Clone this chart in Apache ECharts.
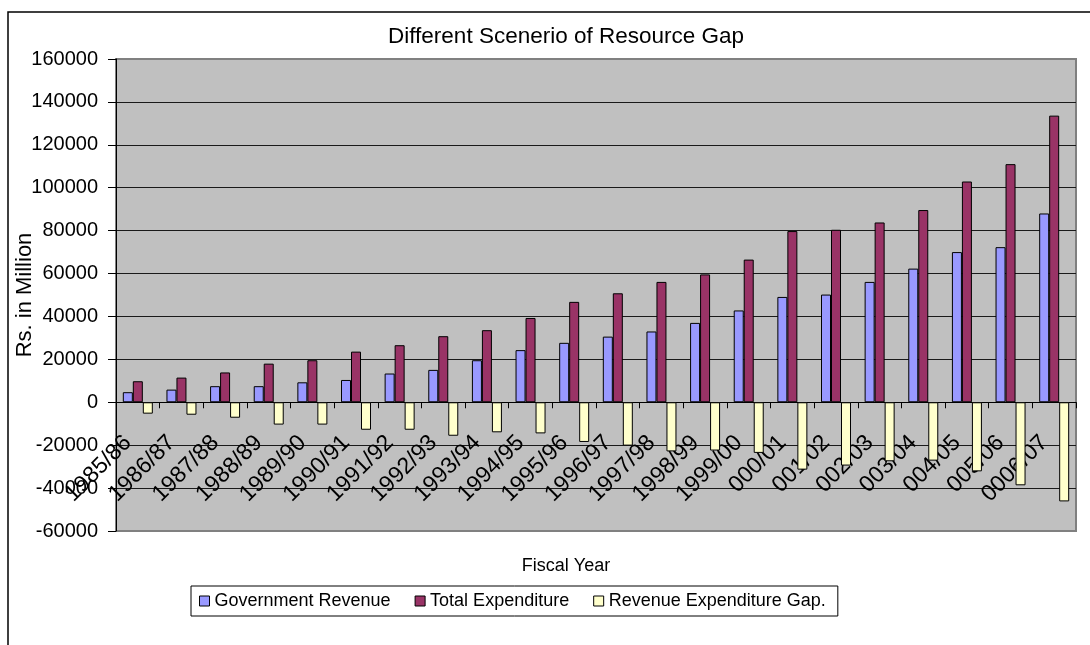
<!DOCTYPE html>
<html>
<head>
<meta charset="utf-8">
<script src="https://cdn.jsdelivr.net/npm/echarts@6/dist/echarts.min.js"></script>
<style>
  html, body { margin: 0; padding: 0; background: #fff; }
  #chart { width: 1090px; height: 645px; }
</style>
</head>
<body>
<div id="chart"></div>
<script>
// Fiscal years on the category axis
const categories = [
  '1985/86', '1986/87', '1987/88', '1988/89', '1989/90', '1990/91',
  '1991/92', '1992/93', '1993/94', '1994/95', '1995/96', '1996/97',
  '1997/98', '1998/99', '1999/00', '000/01', '001/02', '002/03',
  '003/04', '004/05', '005/06', '0006/07'
];

// Rs. in Million
const governmentRevenue = [
  4700, 5900, 7500, 7500, 9300, 10400, 13400, 15100, 19600, 24300, 27700,
  30600, 33000, 37000, 42800, 49100, 50200, 56100, 62300, 70000, 72300, 88000
];
const totalExpenditure = [
  9800, 11500, 13900, 18000, 19600, 23600, 26600, 30800, 33600, 39300, 46800,
  50800, 56100, 59600, 66500, 79800, 80400, 83800, 89600, 102900, 111000, 133600
];
const revenueExpenditureGap = [
  -5300, -5800, -7200, -10400, -10400, -12800, -12800, -15600, -14000, -14500, -18500,
  -20200, -22900, -22500, -23600, -31400, -29500, -27500, -27200, -32200, -38700, -46200
];

const seriesNames = ['Government Revenue', 'Total Expenditure', 'Revenue Expenditure Gap.'];
const seriesColors = ['#9999FF', '#993366', '#FFFFCC'];
const seriesValues = [governmentRevenue, totalExpenditure, revenueExpenditureGap];

// Value axis range
const yMin = -60000;
const yMax = 160000;
const yStep = 20000;

const FONT = '"Liberation Sans", Arial, sans-serif';

// Plot rectangle inside the 1090x645 canvas
const GRID = { left: 116, right: 14, top: 59, bottom: 114 };
const plotHeight = 645 - GRID.top - GRID.bottom;
// Lift the category axis (line, ticks, labels) up to the zero value
const zeroOffset = -plotHeight * (0 - yMin) / (yMax - yMin);

const chart = echarts.init(document.getElementById('chart'), null, { renderer: 'canvas' });

chart.setOption({
  animation: false,
  backgroundColor: '#ffffff',
  textStyle: { fontFamily: FONT, color: '#000' },
  title: {
    text: 'Different Scenerio of Resource Gap',
    left: 383,
    top: 20,
    textStyle: { fontFamily: FONT, fontSize: 22.5, fontWeight: 'normal', color: '#000' }
  },
  legend: {
    data: seriesNames,
    left: 191,
    top: 586,
    orient: 'horizontal',
    icon: 'rect',
    itemWidth: 10,
    itemHeight: 10,
    itemGap: 24,
    padding: [6, 12, 6, 8],
    borderColor: '#000',
    borderWidth: 1,
    itemStyle: { borderColor: '#000', borderWidth: 1 },
    textStyle: { fontFamily: FONT, fontSize: 18, color: '#000' }
  },
  grid: {
    left: GRID.left,
    right: GRID.right,
    top: GRID.top,
    bottom: GRID.bottom,
    show: true,
    backgroundColor: '#C0C0C0',
    borderColor: '#808080',
    borderWidth: 2,
    containLabel: false,
    outerBoundsMode: 'none'
  },
  xAxis: {
    type: 'category',
    data: categories,
    position: 'bottom',
    offset: zeroOffset,
    name: 'Fiscal Year',
    nameLocation: 'middle',
    nameGap: 155,
    nameMoveOverlap: false,
    nameTextStyle: { fontFamily: FONT, fontSize: 18, color: '#000', padding: [0, 60, 0, 0] },
    axisLine: { onZero: false, lineStyle: { color: '#000', width: 1 } },
    axisTick: { show: true, inside: false, length: 6, lineStyle: { color: '#000' } },
    axisLabel: {
      interval: 0,
      rotate: 45,
      margin: 27,
      padding: [0, 14, 0, 0],
      fontFamily: FONT,
      fontSize: 23,
      color: '#000',
      hideOverlap: false
    },
    splitLine: { show: false }
  },
  yAxis: {
    type: 'value',
    min: yMin,
    max: yMax,
    interval: yStep,
    name: 'Rs. in Million',
    nameLocation: 'middle',
    nameGap: 80,
    nameMoveOverlap: false,
    nameTextStyle: { fontFamily: FONT, fontSize: 22, color: '#000' },
    axisLine: { show: true, lineStyle: { color: '#000', width: 1 } },
    axisTick: { show: true, inside: false, length: 8, lineStyle: { color: '#000' } },
    axisLabel: {
      margin: 18,
      fontFamily: FONT,
      fontSize: 20,
      color: '#000',
      formatter: (v) => String(v)
    },
    splitLine: {
      show: true,
      showMinLine: false,
      showMaxLine: false,
      lineStyle: { color: '#1a1a1a', width: 1 }
    }
  },
  series: seriesNames.map((name, i) => ({
    name: name,
    type: 'bar',
    data: seriesValues[i],
    barWidth: 10,
    barGap: '0%',
    itemStyle: { color: seriesColors[i], borderColor: '#000', borderWidth: 1 },
    emphasis: { disabled: true }
  })),
  graphic: [
    {
      type: 'rect',
      silent: true,
      z: 100,
      shape: { x: 8, y: 12, width: 1200, height: 800 },
      style: { fill: 'none', stroke: '#000', lineWidth: 1.5 }
    }
  ]
});
</script>
</body>
</html>
